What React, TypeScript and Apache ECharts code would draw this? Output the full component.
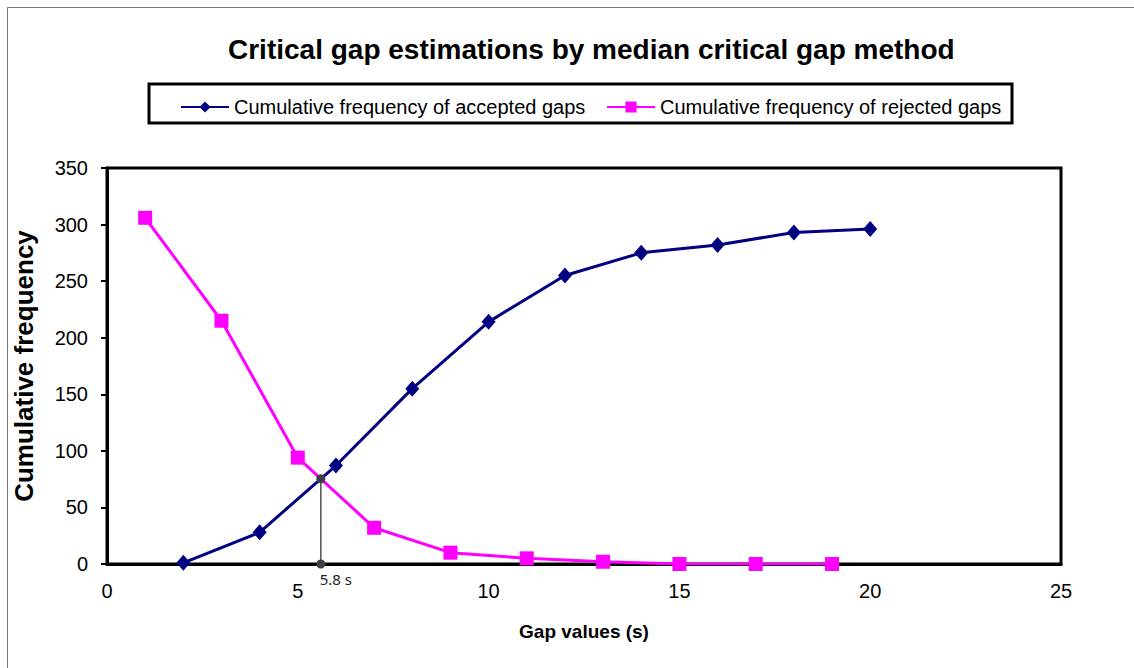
import React, { useEffect, useRef } from "react";
import * as echarts from "echarts";

const titleText = "Critical gap estimations by median critical gap method";
const seriesNames = ["Cumulative frequency of accepted gaps", "Cumulative frequency of rejected gaps"];
const acceptedX = [2, 4, 6, 8, 10, 12, 14, 16, 18, 20];
const acceptedY = [1, 28, 87, 155, 214, 255, 275, 282, 293, 296];
const rejectedX = [1, 3, 5, 7, 9, 11, 13, 15, 17, 19];
const rejectedY = [306, 215, 94, 32, 10, 5, 2, 0, 0, 0];
const criticalLabel = "5.8 s";
const xTicks = { min: 0, max: 25, interval: 5 };
const yTicks = { min: 0, max: 350, interval: 50 };
const xName = "Gap values (s)";
const yName = "Cumulative frequency";

function intersect(): [number, number] {
  for (let i = 0; i < acceptedX.length - 1; i++) {
    for (let j = 0; j < rejectedX.length - 1; j++) {
      const x1 = acceptedX[i], y1 = acceptedY[i], x2 = acceptedX[i + 1], y2 = acceptedY[i + 1];
      const x3 = rejectedX[j], y3 = rejectedY[j], x4 = rejectedX[j + 1], y4 = rejectedY[j + 1];
      const d = (x1 - x2) * (y3 - y4) - (y1 - y2) * (x3 - x4);
      if (d === 0) continue;
      const t = ((x1 - x3) * (y3 - y4) - (y1 - y3) * (x3 - x4)) / d;
      const u = -((x1 - x2) * (y1 - y3) - (y1 - y2) * (x1 - x3)) / d;
      if (t >= 0 && t <= 1 && u >= 0 && u <= 1) {
        return [x1 + t * (x2 - x1), y1 + t * (y2 - y1)];
      }
    }
  }
  return [0, 0];
}

export default function App() {
  const ref = useRef<HTMLDivElement>(null);
  useEffect(() => {
    if (!ref.current) return;
    const chart = echarts.init(ref.current, null, { renderer: "svg" });
    const [ix, iy] = intersect();
    const font = "Liberation Sans, Arial, sans-serif";
    const legendText = { fontSize: 20, color: "#000", fontFamily: font };
    chart.setOption({
      animation: false,
      backgroundColor: "#fff",
      textStyle: { fontFamily: font },
      title: {
        text: titleText,
        left: 223,
        top: 30,
        textStyle: { fontSize: 28, fontWeight: "bold", color: "#000", fontFamily: font },
      },
      legend: [
        {
          data: [seriesNames[0]],
          left: 175,
          top: 92,
          itemWidth: 48,
          itemHeight: 14,
          itemGap: 4,
          textStyle: legendText,
        },
        {
          data: [seriesNames[1]],
          left: 601,
          top: 92,
          itemWidth: 48,
          itemHeight: 14,
          itemGap: 4,
          textStyle: legendText,
        },
      ],
      graphic: [
        {
          type: "rect",
          shape: { x: 7.5, y: 7.5, width: 1200, height: 800 },
          style: { fill: "none", stroke: "#777", lineWidth: 1 },
          silent: true,
        },
        {
          type: "rect",
          shape: { x: 149, y: 84, width: 863, height: 39 },
          style: { fill: "none", stroke: "#000", lineWidth: 3 },
          silent: true,
        },
      ],
      grid: {
        left: 107,
        right: 73,
        top: 168,
        bottom: 104,
        show: true,
        borderColor: "#000",
        borderWidth: 3,
        backgroundColor: "#fff",
      },
      xAxis: {
        type: "value",
        min: xTicks.min,
        max: xTicks.max,
        interval: xTicks.interval,
        name: xName,
        nameLocation: "middle",
        nameGap: 58,
        nameTextStyle: { fontSize: 19, fontWeight: "bold", color: "#000", fontFamily: font },
        axisLine: { show: true, lineStyle: { color: "#000", width: 3 } },
        axisTick: { show: false },
        splitLine: { show: false },
        axisLabel: { fontSize: 20, color: "#000", margin: 17, fontFamily: font },
      },
      yAxis: {
        type: "value",
        min: yTicks.min,
        max: yTicks.max,
        interval: yTicks.interval,
        name: yName,
        nameLocation: "middle",
        nameGap: 70,
        nameTextStyle: { fontSize: 26, fontWeight: "bold", color: "#000", fontFamily: font },
        axisLine: { show: true, lineStyle: { color: "#000", width: 3 } },
        axisTick: { show: true, length: 6, lineStyle: { color: "#000", width: 2 } },
        splitLine: { show: false },
        axisLabel: { fontSize: 20, color: "#000", margin: 19, fontFamily: font },
      },
      series: [
        {
          name: seriesNames[0],
          type: "line",
          data: acceptedX.map((x, i) => [x, acceptedY[i]]),
          symbol: "diamond",
          symbolSize: [14, 16],
          lineStyle: { color: "#000080", width: 3 },
          itemStyle: { color: "#000080" },
          z: 3,
        },
        {
          name: seriesNames[1],
          type: "line",
          data: rejectedX.map((x, i) => [x, rejectedY[i]]),
          symbol: "rect",
          symbolSize: 14,
          lineStyle: { color: "#FF00FF", width: 3 },
          itemStyle: { color: "#FF00FF" },
          z: 2,
        },
        {
          name: "critical",
          type: "line",
          data: [
            [ix, iy],
            {
              value: [ix, 0],
              label: {
                show: true,
                position: "bottom",
                distance: 3,
                offset: [15, 0],
                formatter: criticalLabel,
                fontSize: 15,
                color: "#222",
                fontFamily: "Noto Sans, sans-serif",
              },
            },
          ],
          symbol: "circle",
          symbolSize: 9,
          lineStyle: { color: "#505050", width: 1.5 },
          itemStyle: { color: "#404040" },
          z: 4,
        },
      ],
    });
    return () => chart.dispose();
  }, []);
  return (
    <div
      ref={ref}
      style={{ position: "fixed", left: 0, top: 0, width: 1134, height: 668 }}
    />
  );
}
